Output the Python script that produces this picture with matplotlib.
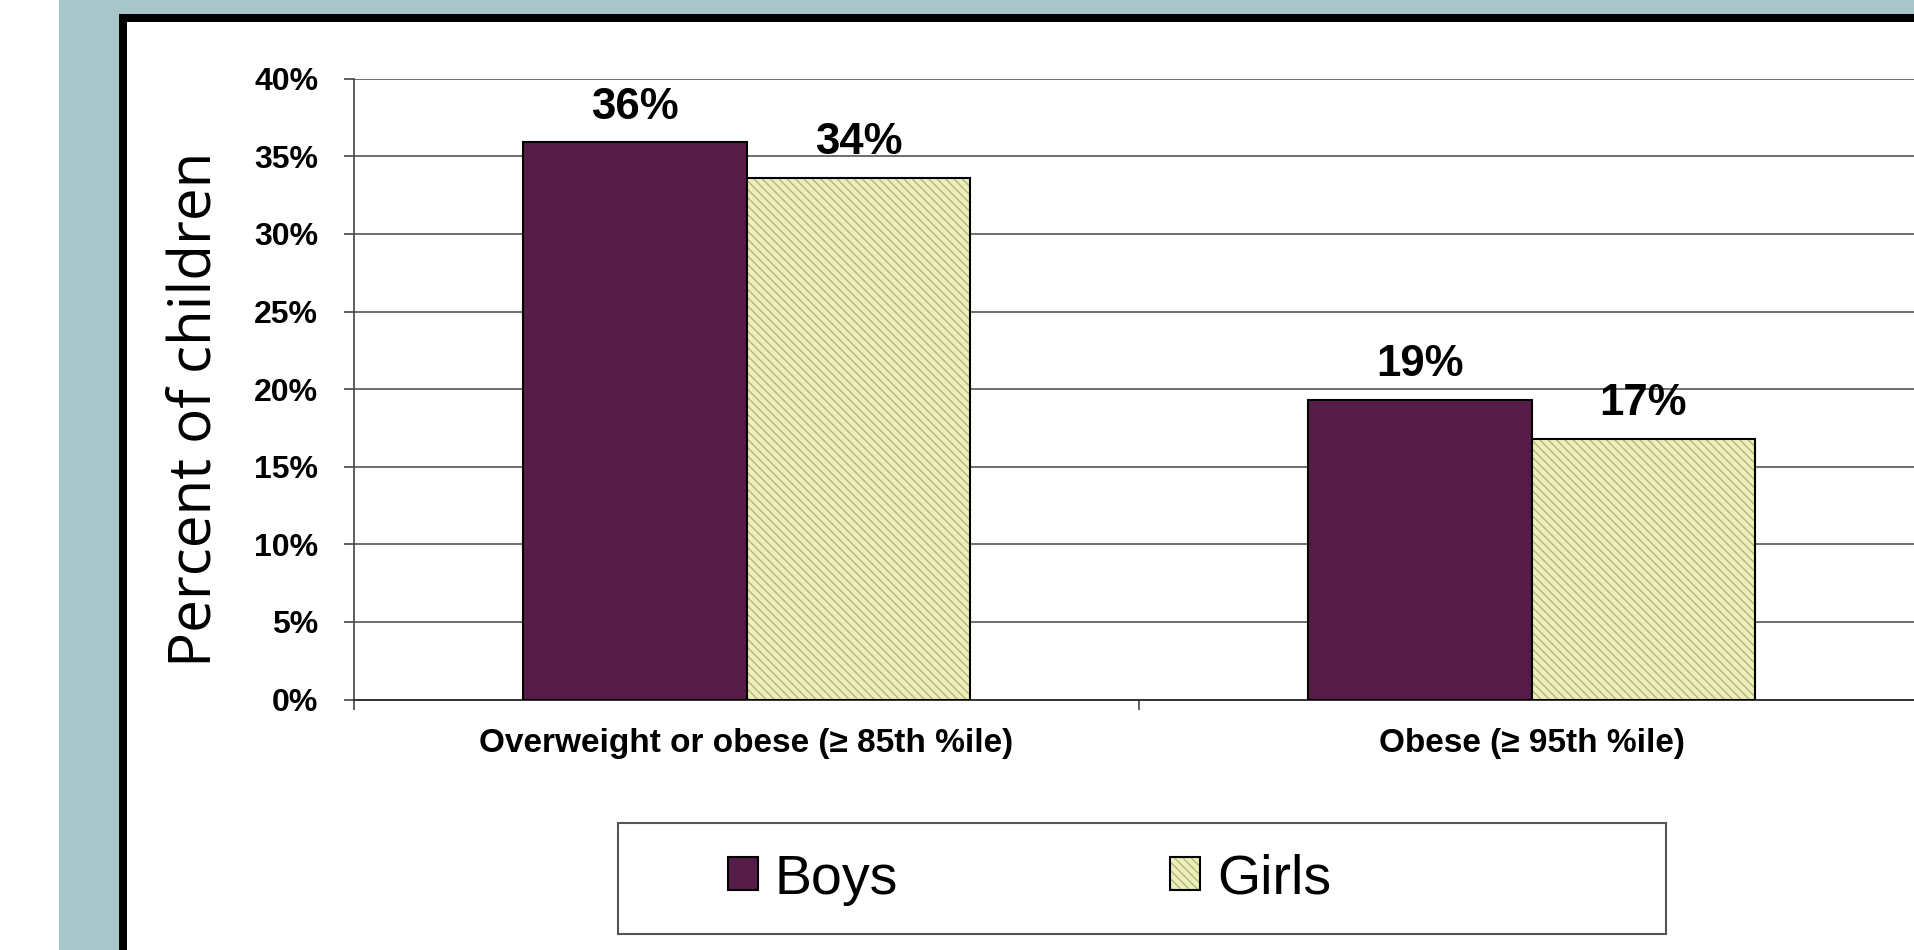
import matplotlib
matplotlib.use("Agg")

import numpy as np
import matplotlib.pyplot as plt
from matplotlib.patches import Rectangle
from matplotlib.legend_handler import HandlerTuple

# data
categories = ["Overweight or obese (≥ 85th %ile)", "Obese (≥ 95th %ile)"]
series = ["Boys", "Girls"]
boys = [35.9, 19.3]
girls = [33.6, 16.8]
boys_labels = ["36%", "19%"]
girls_labels = ["34%", "17%"]
yticks = [0, 5, 10, 15, 20, 25, 30, 35, 40]

BOY = "#561D48"
GIRL = "#EDEFBB"
HATCH = "#B4B67B"
TEAL = "#A8C5CA"

W, H = 1914, 950

plt.rcParams['font.family'] = ['Liberation Sans', 'DejaVu Sans']
plt.rcParams['hatch.color'] = HATCH
plt.rcParams['hatch.linewidth'] = 1.0

fig = plt.figure(figsize=(W / 100, H / 100), dpi=100, facecolor="white")


def frect(x0, y0, x1, y1, **kw):
    # rectangle given in figure pixels, origin top-left
    return Rectangle((x0 / W, 1 - y1 / H), (x1 - x0) / W, (y1 - y0) / H,
                     transform=fig.transFigure, **kw)


# slide background: teal band, black frame, white inside
fig.add_artist(frect(59, 0, W + 20, H + 20, facecolor=TEAL, lw=0, zorder=-30))
fig.add_artist(frect(119, 14, W + 20, H + 20, facecolor="black", lw=0, zorder=-29))
fig.add_artist(frect(127, 22, W + 20, H + 20, facecolor="white", lw=0, zorder=-28))

ax = fig.add_axes([354 / W, 1 - 699.5 / H, (1924 - 354) / W, (699.5 - 78.7) / H])
ax.set_facecolor("white")

x = np.arange(len(categories))
w = 0.285

b_bars = ax.bar(x - w / 2, boys, w, color=BOY, edgecolor="black", linewidth=1.5, zorder=3)
g_hatch = ax.bar(x + w / 2, girls, w, color=GIRL, hatch="\\\\\\\\", linewidth=0, zorder=3)
g_edge = ax.bar(x + w / 2, girls, w, facecolor="none", edgecolor="black", linewidth=1.5, zorder=4)

for xi, v, lbl in zip(x - w / 2, boys, boys_labels):
    ax.annotate(lbl, (xi, v), xytext=(0, 17), textcoords="offset points",
                ha="center", va="baseline", fontsize=31.5, fontweight="bold")
for xi, v, lbl in zip(x + w / 2, girls, girls_labels):
    ax.annotate(lbl, (xi, v), xytext=(0, 17), textcoords="offset points",
                ha="center", va="baseline", fontsize=31.5, fontweight="bold")

ax.set_xlim(-0.5, 1.5)
ax.set_ylim(0, 40)
ax.set_yticks(yticks)
ax.set_yticklabels([f"{t}%" for t in yticks], fontsize=23, fontweight="bold")
ax.yaxis.grid(True, color="#555555", linewidth=1.2)
ax.set_axisbelow(True)

for s in ["top", "right"]:
    ax.spines[s].set_visible(False)
ax.spines["left"].set_color("#444444")
ax.spines["left"].set_linewidth(1.2)
ax.spines["bottom"].set_color("#333333")
ax.spines["bottom"].set_linewidth(1.4)

ax.set_xticks([-0.5, 0.5, 1.5])
ax.set_xticklabels(["", "", ""])
ax.set_xticks(x, minor=True)
ax.set_xticklabels(categories, minor=True, fontsize=24, fontweight="bold")
ax.tick_params(axis="x", which="major", length=7, width=1.2, color="#444444")
ax.tick_params(axis="x", which="minor", length=0, pad=20.5)
ax.tick_params(axis="y", length=7.2, width=1.2, color="#444444", pad=18.5)

ax.set_ylabel("Percent of children", family=["Open Sans", "DejaVu Sans"], fontsize=42, va="center")
ax.yaxis.set_label_coords(196 / W, 1 - 409 / H, transform=fig.transFigure)

# legend box and entries
fig.add_artist(frect(618, 823, 1666, 934, facecolor="white", edgecolor="#555555", lw=1.5, zorder=1))
leg = fig.legend([b_bars[0], (g_hatch[0], g_edge[0])], series,
                 loc="center left", bbox_to_anchor=(728 / W, 1 - 879.5 / H),
                 frameon=False, fontsize=40, ncol=2,
                 handlelength=0.54, handleheight=0.54, handletextpad=0.3,
                 columnspacing=4.9, borderpad=0, borderaxespad=0,
                 handler_map={tuple: HandlerTuple(ndivide=1, pad=0)})
leg.set_zorder(2)

plt.savefig("out.png", dpi=100)
